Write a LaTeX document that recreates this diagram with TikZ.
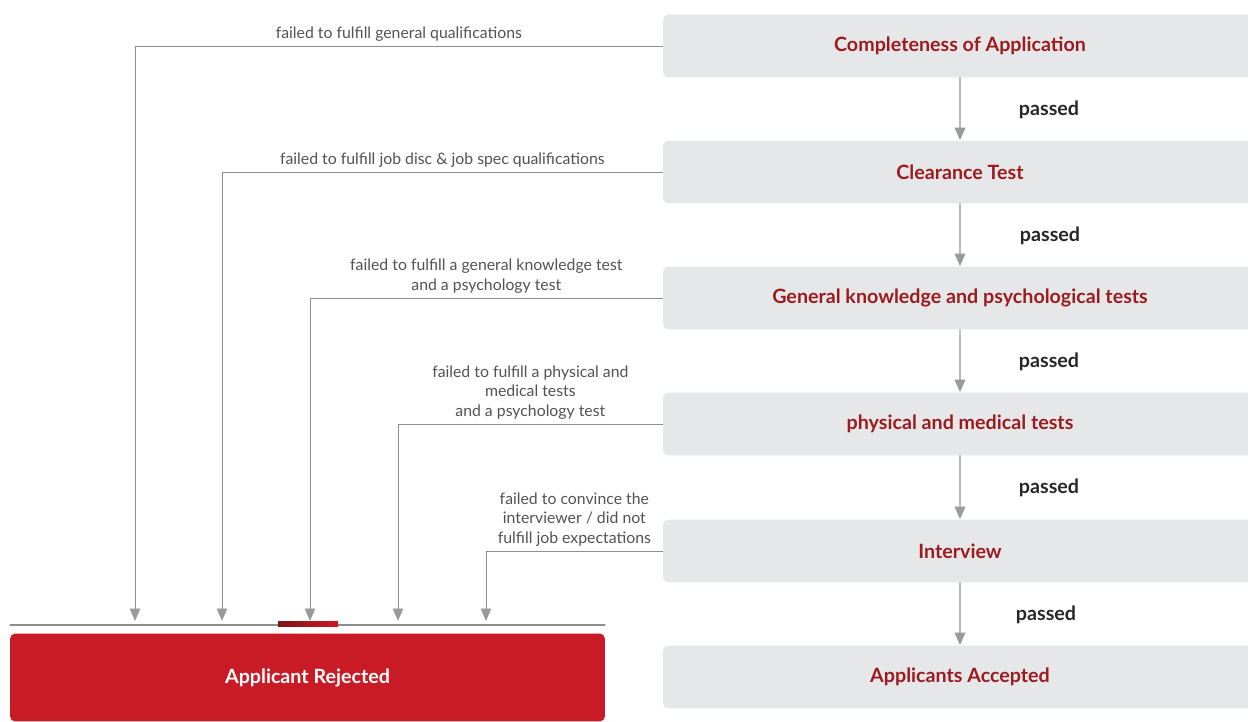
\documentclass[tikz,border=0pt]{standalone}
\usepackage{fontspec}
\setmainfont{Lato}
\usepackage{tikz}
\usetikzlibrary{arrows.meta}
\usepackage{xcolor}
\definecolor{boxgray}{HTML}{E6E7E8}
\definecolor{stagered}{HTML}{9B1B1F}
\definecolor{rejectred}{HTML}{C91B25}
\definecolor{linegray}{HTML}{8E8E8E}
\definecolor{tipgray}{HTML}{9A9A9B}
\definecolor{passline}{HTML}{BDBDBD}

\begin{document}
\begin{tikzpicture}[x=0.02cm,y=-0.02cm,>={Triangle[length=2.5mm,width=2.1mm]},line cap=round,
  stage/.style={fill=boxgray,rounded corners=3pt,minimum width=11.88cm,minimum height=1.26cm,
    text=stagered,font=\bfseries\fontsize{11.2}{13}\selectfont},
  reject/.style={fill=rejectred,rounded corners=3pt,minimum width=11.9cm,minimum height=1.76cm,
    text=white,font=\bfseries\fontsize{11.2}{13}\selectfont},
  failnote/.style={above,align=center,text=black!68,inner sep=2.5pt,font=\fontsize{9}{11}\selectfont},
  passnote/.style={text=black!85,font=\bfseries\fontsize{11.2}{13}\selectfont},
  failline/.style={linegray,line width=0.5pt,-{Triangle[length=2.5mm,width=2.1mm,fill=tipgray,color=tipgray]}},
  passline/.style={draw=passline,line width=1.1pt,-{Triangle[length=2.5mm,width=2.1mm,fill=tipgray,color=tipgray]}}]
\useasboundingbox (0,0) rectangle (1248,722);

% stages on the right
\node[stage] (s1) at (960,46) {Completeness of Application};
\node[stage] (s2) at (960,172) {Clearance Test};
\node[stage] (s3) at (960,298) {General knowledge and psychological tests};
\node[stage] (s4) at (960,424) {physical and medical tests};
\node[stage] (s5) at (960,551) {Interview};
\node[stage] (s6) at (960,677) {Applicants Accepted};

\draw[passline] (s1) -- (s2);
\draw[passline] (s2) -- (s3);
\draw[passline] (s3) -- (s4);
\draw[passline] (s4) -- (s5);
\draw[passline] (s5) -- (s6);
\node[passnote] (p1) at (1049,110) {passed};
\node[passnote] (p2) at (1050,236) {passed};
\node[passnote] (p3) at (1049,362) {passed};
\node[passnote] (p4) at (1049,488) {passed};
\node[passnote] (p5) at (1046,615) {passed};

% rejected
\node[reject] (rej) at (307.5,677.5) {Applicant Rejected};
\coordinate (bl) at (10,625);
\coordinate (br) at (605,625);
\draw[linegray,line width=0.6pt] (bl) -- (br);
\shade[left color=stagered!80!black,right color=rejectred!90!red] (278,621.5) rectangle (338,627);

\coordinate (t1) at (135,621);
\coordinate (t2) at (222,621);
\coordinate (t3) at (310,621);
\coordinate (t4) at (398,621);
\coordinate (t5) at (486,621);

\draw[failline] (s1.west) -| (t1) node[failnote,pos=0.25] {failed to fulfill general qualifications};
\draw[failline] (s2.west) -| (t2) node[failnote,pos=0.25] {failed to fulfill job disc \& job spec qualifications};
\draw[failline] (s3.west) -| (t3) node[failnote,pos=0.25] {failed to fulfill a general knowledge test\\and a psychology test};
\draw[failline] (s4.west) -| (t4) node[failnote,pos=0.25] {failed to fulfill a physical and\\medical tests\\and a psychology test};
\draw[failline] (s5.west) -| (t5) node[failnote,pos=0.25] {failed to convince the\\interviewer / did not\\fulfill job expectations};
\end{tikzpicture}
\end{document}
